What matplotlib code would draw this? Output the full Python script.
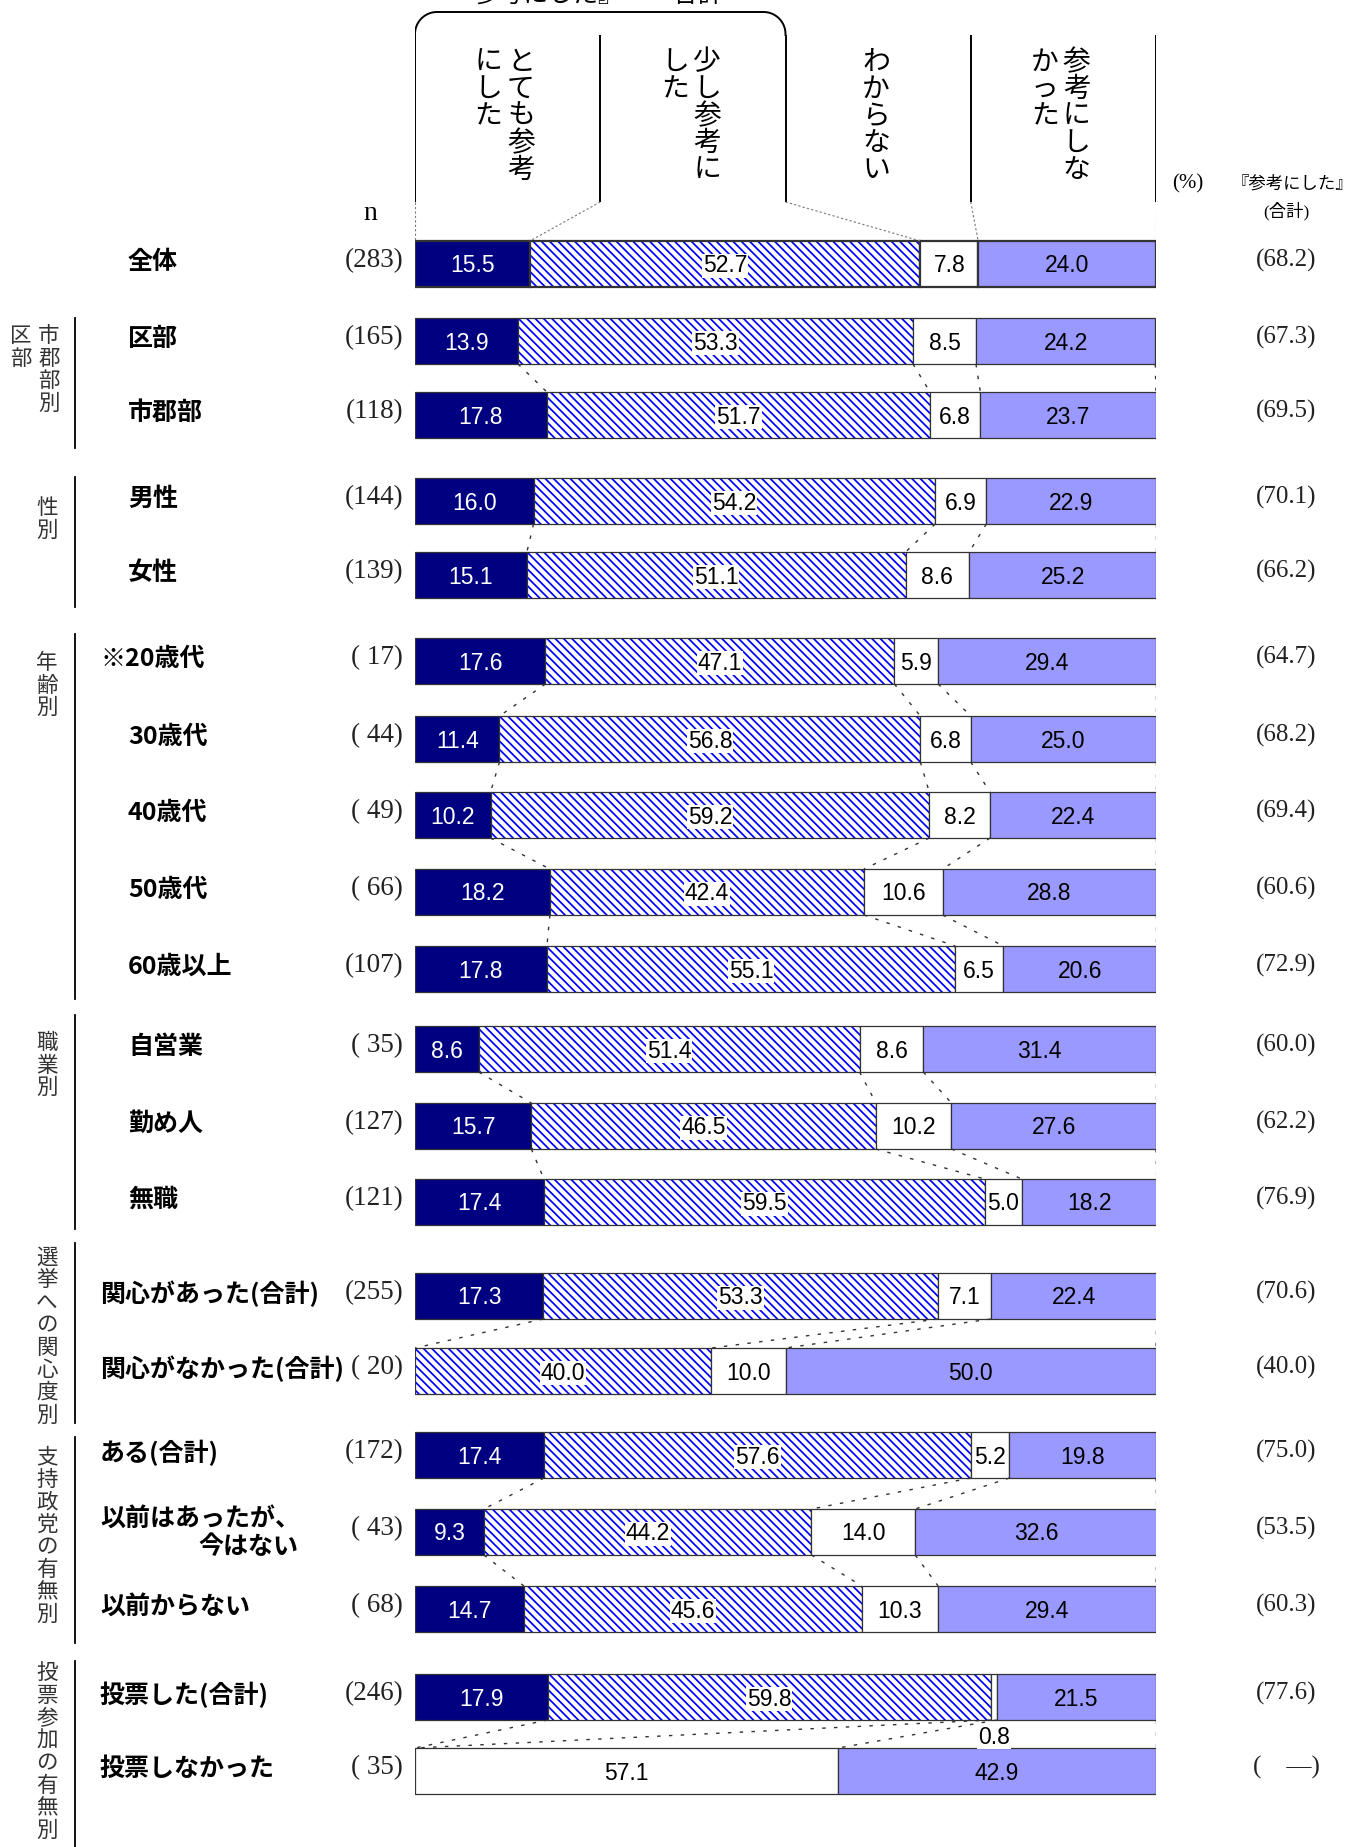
import numpy as np
import matplotlib
matplotlib.use("Agg")
import matplotlib.pyplot as plt

# --- データ ---
labels = ['全体', '区部', '市郡部', '男性', '女性',
          '※20歳代', '30歳代', '40歳代', '50歳代', '60歳以上',
          '自営業', '勤め人', '無職',
          '関心があった(合計)', '関心がなかった(合計)',
          'ある(合計)', '以前はあったが、\n今はない', '以前からない',
          '投票した(合計)', '投票しなかった']
n_labels = ['(283)', '(165)', '(118)', '(144)', '(139)',
            '( 17)', '( 44)', '( 49)', '( 66)', '(107)',
            '( 35)', '(127)', '(121)',
            '(255)', '( 20)',
            '(172)', '( 43)', '( 68)',
            '(246)', '( 35)']
very = [15.5, 13.9, 17.8, 16.0, 15.1, 17.6, 11.4, 10.2, 18.2, 17.8,
        8.6, 15.7, 17.4, 17.3, 0.0, 17.4, 9.3, 14.7, 17.9, 0.0]
little = [52.7, 53.3, 51.7, 54.2, 51.1, 47.1, 56.8, 59.2, 42.4, 55.1,
          51.4, 46.5, 59.5, 53.3, 40.0, 57.6, 44.2, 45.6, 59.8, 0.0]
unknown = [7.8, 8.5, 6.8, 6.9, 8.6, 5.9, 6.8, 8.2, 10.6, 6.5,
           8.6, 10.2, 5.0, 7.1, 10.0, 5.2, 14.0, 10.3, 0.8, 57.1]
notref = [24.0, 24.2, 23.7, 22.9, 25.2, 29.4, 25.0, 22.4, 28.8, 20.6,
          31.4, 27.6, 18.2, 22.4, 50.0, 19.8, 32.6, 29.4, 21.5, 42.9]
totals = ['(68.2)', '(67.3)', '(69.5)', '(70.1)', '(66.2)',
          '(64.7)', '(68.2)', '(69.4)', '(60.6)', '(72.9)',
          '(60.0)', '(62.2)', '(76.9)',
          '(70.6)', '(40.0)',
          '(75.0)', '(53.5)', '(60.3)',
          '(77.6)', '(\u3000―)']
header = [['とても参考', 'にした'], ['少し参考に', 'した'], ['わからない'], ['参考にしな', 'かった']]
# グループ: (行インデックス, 縦書きラベルの列)
groups = [([0], []),
          ([1, 2], ['市郡部別', '区部']),
          ([3, 4], ['性別']),
          ([5, 6, 7, 8, 9], ['年齢別']),
          ([10, 11, 12], ['職業別']),
          ([13, 14], ['選挙への関心度別']),
          ([15, 16, 17], ['支持政党の有無別']),
          ([18, 19], ['投票参加の有無別'])]

# --- レイアウト (ピクセル) ---
W, H = 1349, 1847
row_y = [264, 341, 415, 501, 575, 661, 739, 815, 892, 969,
         1049, 1126, 1202, 1296, 1371, 1455, 1532, 1609, 1697, 1771]
label_x = [128] * 5 + [100] + [128] * 7 + [100] * 7
bar_h = 46
group_lines = [None, (318, 448), (477, 607), (634, 999), (1015, 1229),
               (1243, 1423), (1437, 1643), (1661, 1847)]
group_text_y = [None, 336, 508, 663, 1043, 1258, 1457, 1673]

CJK = ['Noto Sans CJK JP', 'DejaVu Sans']
SERIF = ['Liberation Serif', 'Noto Sans CJK JP']
NARROW = ['Liberation Sans', 'DejaVu Sans']
plt.rcParams['font.family'] = CJK
plt.rcParams['hatch.linewidth'] = 1.25

navy = '#000080'
hatch_blue = '#0000ff'
purple = '#9999ff'
edge = '#333333'


def vtext(a, x, y0, s, step, **kw):
    # 縦書き: 1文字ずつ並べる
    for i, ch in enumerate(s):
        a.text(x, y0 + i * step, ch, ha='center', va='center', **kw)


fig = plt.figure(figsize=(W / 100, H / 100), dpi=100)
lay = fig.add_axes([0, 0, 1, 1])
lay.set_xlim(0, W)
lay.set_ylim(H, 0)
lay.axis('off')

ax = fig.add_axes([415 / W, 0, 741 / W, 1])
ax.set_xlim(0, 100)
ax.set_ylim(H, 0)
ax.axis('off')

# --- 帯グラフ ---
n = len(labels)
lws = [1.6] + [0.9] * (n - 1)
segs = [np.array(very), np.array(little), np.array(unknown), np.array(notref)]
lefts = []
left = np.zeros(n)
for k, vals in enumerate(segs):
    lefts.append(left.copy())
    if k == 1:
        ax.barh(row_y, vals, left=left, height=bar_h, color='white',
                edgecolor=hatch_blue, hatch='\\\\\\\\', linewidth=0)
        ax.barh(row_y, vals, left=left, height=bar_h, fill=False,
                edgecolor=edge, linewidth=lws)
    else:
        ax.barh(row_y, vals, left=left, height=bar_h,
                color=[navy, None, 'white', purple][k], edgecolor=edge, linewidth=lws)
    left = left + vals
cum = np.array(lefts[1:] + [left]).T  # 境界位置

# 数値ラベル
for k, vals in enumerate(segs):
    for i in range(n):
        v = vals[i]
        if v <= 0:
            continue
        x = lefts[k][i] + v / 2
        y = row_y[i] + 2
        kw = dict(ha='center', va='center', fontsize=16.5, family=NARROW, zorder=5)
        if k == 0:
            ax.text(x, y, f'{v:.1f}', color='white', **kw)
        elif k == 1:
            ax.text(x, y, f'{v:.1f}', color='black',
                    bbox=dict(facecolor='white', edgecolor='none', pad=0.6), **kw)
        elif v < 2:
            ax.text(x, row_y[i] + bar_h / 2 + 17, f'{v:.1f}', color='black',
                    bbox=dict(facecolor='white', edgecolor='none', pad=0.6), **kw)
        else:
            ax.text(x, y, f'{v:.1f}', color='black', **kw)

# 行間の点線
for rows, _ in groups:
    for a, b in zip(rows[:-1], rows[1:]):
        for j in range(4):
            ax.plot([cum[a][j], cum[b][j]],
                    [row_y[a] + bar_h / 2, row_y[b] - bar_h / 2],
                    color='#333333', lw=1.0, ls=(0, (2.5, 6)), zorder=1)

# --- 見出し ---
for q in range(5):
    ax.plot([q * 25, q * 25], [35, 202], color='black', lw=1.4, solid_capstyle='butt')
top_b = [0] + list(cum[0])
for q in range(5):
    ax.plot([q * 25, top_b[q]], [202, row_y[0] - bar_h / 2],
            color='#777777', lw=0.8, ls=(0, (2, 2)))
# 『参考にした』のかっこ
rx, ry = 2.97, 22
t = np.linspace(0, np.pi / 2, 20)
bx = np.concatenate([[0], rx - rx * np.cos(t), 50 - rx + rx * np.cos(t[::-1]), [50]])
by = np.concatenate([[35], 12 + ry - ry * np.sin(t), 12 + ry - ry * np.sin(t[::-1]), [35]])
ax.plot(bx, by, color='black', lw=1.4)
ax.text(23.0, 2, '『参考にした』\u3000\u3000合計', ha='center', va='baseline', fontsize=18)

col_x = [[14.3, 9.85], [39.4, 35.1], [62.2], [89.3, 85.0]]
for cols, xs in zip(header, col_x):
    for s, x in zip(cols, xs):
        vtext(ax, x, 62, s, 27, fontsize=20)

lay.text(370, 214, 'n', ha='center', va='center', fontsize=20, family=SERIF)
lay.text(1188, 184, '(%)', ha='center', va='center', fontsize=15, family=SERIF)
lay.text(1292, 184, '『参考にした』', ha='center', va='center', fontsize=12.5)
lay.text(1286, 211, '(合計)', ha='center', va='center', fontsize=12.5, family=SERIF)

# --- 左側ラベル ---
for i, lab in enumerate(labels):
    if '\n' in lab:
        l1, l2 = lab.split('\n')
        lay.text(label_x[i], row_y[i] - 13, l1, ha='left', va='center',
                 fontsize=18, fontweight='bold')
        lay.text(198, row_y[i] + 15, l2, ha='left', va='center',
                 fontsize=18, fontweight='bold')
    else:
        lay.text(label_x[i], row_y[i] - 2, lab, ha='left', va='center',
                 fontsize=18, fontweight='bold')
    lay.text(403, row_y[i] - 3, n_labels[i], ha='right', va='center',
             fontsize=19.5, family=SERIF, color='#222222')
    lay.text(1286, row_y[i] - 4, totals[i], ha='center', va='center',
             fontsize=18, family=SERIF, color='#222222')

# グループ名（縦書き）と縦線
for g, (rows, cols) in enumerate(groups):
    if not cols:
        continue
    y0, y1 = group_lines[g]
    lay.plot([75, 75], [y0, y1], color='black', lw=1.3)
    xs = [49, 21] if len(cols) == 2 else [47]
    for s, x in zip(cols, xs):
        vtext(lay, x, group_text_y[g], s, 22.5, fontsize=15.5, color='#333333')

fig.savefig('out.png', dpi=100)
